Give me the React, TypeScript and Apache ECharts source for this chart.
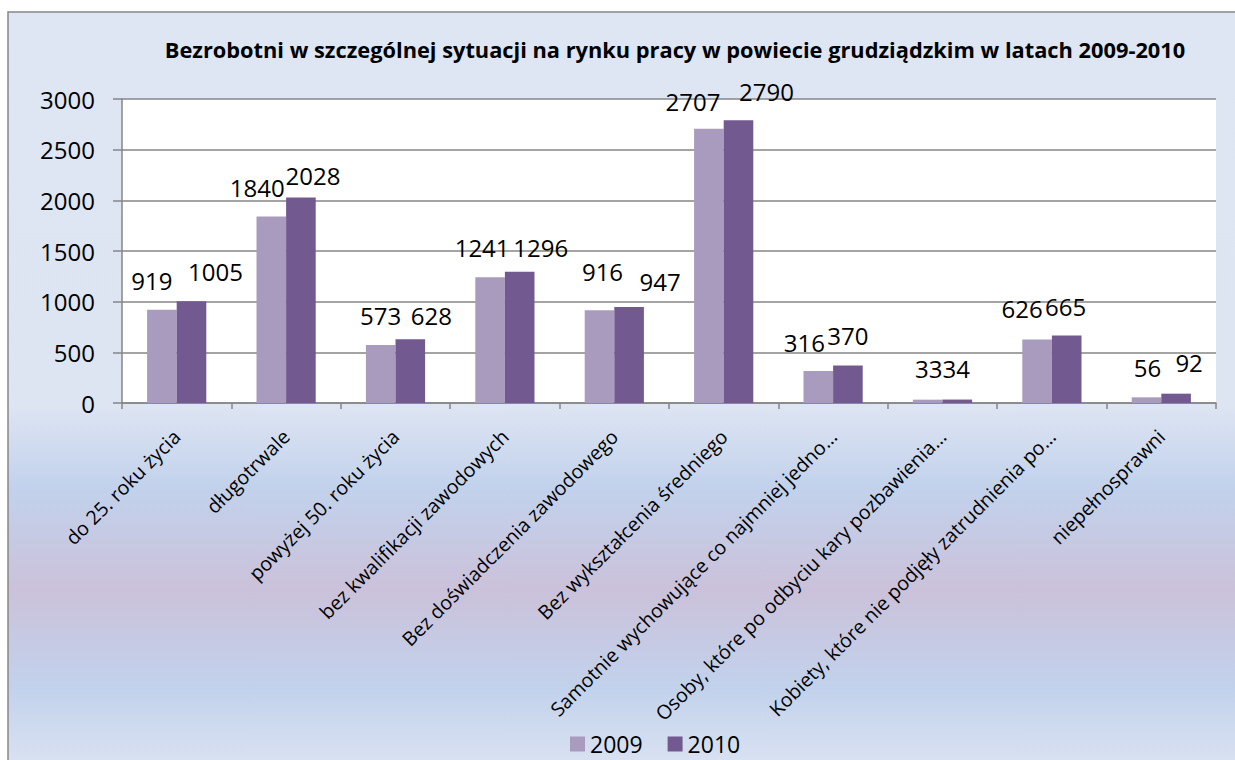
import React, { useEffect, useRef } from "react";
import * as echarts from "echarts";

const categories = [
  "do 25. roku życia",
  "długotrwale",
  "powyżej 50. roku życia",
  "bez kwalifikacji zawodowych",
  "Bez doświadczenia zawodowego",
  "Bez wykształcenia średniego",
  "Samotnie wychowujące co najmniej jedno…",
  "Osoby, które po odbyciu kary pozbawienia…",
  "Kobiety, które nie podjęły zatrudnienia po…",
  "niepełnosprawni",
];
const seriesNames = ["2009", "2010"];
const values2009 = [919, 1840, 573, 1241, 916, 2707, 316, 33, 626, 56];
const values2010 = [1005, 2028, 628, 1296, 947, 2790, 370, 34, 665, 92];
const yTicks = { min: 0, max: 3000, interval: 500 };

// label nudges (pixels) reproducing the hand-placed data labels
const labelShift2009 = [[-10, -17], [-14, -17], [0, -17], [-8, -18], [3, -27], [-16, -15], [-14, -16], [1, -19], [-15, -19], [1, -18]];
const labelShift2010 = [[24, -18], [12, -10], [21, -12], [21, -12], [31, -14], [28, -17], [0, -18], [-1, -19], [-1, -17], [13, -19]];

const FONT = "'Open Sans', 'Noto Sans', sans-serif";

export default function App() {
  const ref = useRef<HTMLDivElement>(null);
  useEffect(() => {
    document.body.style.margin = "0";
    const chart = echarts.init(ref.current!, null, { renderer: "svg" });
    const mk = (vals: number[], shifts: number[][]) =>
      vals.map((v, i) => ({
        value: v,
        label: { offset: shifts[i] },
      }));
    const labelStyle = {
      show: true,
      position: "top",
      distance: 0,
      fontFamily: FONT,
      fontSize: 24,
      color: "#000",
      lineHeight: 24,
    };
    chart.setOption({
      animation: false,
      textStyle: { fontFamily: FONT },
      graphic: [
        {
          type: "rect",
          z: -100,
          silent: true,
          shape: { x: 8, y: 12, width: 1240, height: 760 },
          style: {
            fill: new echarts.graphic.LinearGradient(0, 0, 0, 1, [
              { offset: 0, color: "#DFE6F3" },
              { offset: 0.52, color: "#DDE4F2" },
              { offset: 0.625, color: "#C2D2EC" },
              { offset: 0.76, color: "#CBC1DA" },
              { offset: 0.89, color: "#C2D2EC" },
              { offset: 1, color: "#DCE3F2" },
            ]),
            stroke: "#868686",
            lineWidth: 1.5,
          },
        },
      ],
      title: {
        text: "Bezrobotni w szczególnej sytuacji na rynku pracy w powiecie grudziądzkim w latach 2009-2010",
        left: 670,
        top: 33,
        textAlign: "center",
        textStyle: { fontFamily: FONT, fontSize: 21.8, fontWeight: "bold", color: "#000" },
      },
      legend: {
        data: seriesNames,
        left: 570,
        top: 732,
        itemWidth: 15,
        itemHeight: 15,
        itemGap: 25,
        padding: 0,
        icon: "rect",
        textStyle: { fontFamily: FONT, fontSize: 23, lineHeight: 24, color: "#000", padding: [0, 0, 0, 0] },
      },
      grid: {
        left: 122,
        right: 19,
        top: 99,
        bottom: 357,
        show: true,
        backgroundColor: "#FFFFFF",
        borderWidth: 0,
      },
      xAxis: {
        type: "category",
        data: categories,
        axisLine: { lineStyle: { color: "#868686", width: 1.5 } },
        axisTick: { show: true, length: 6, lineStyle: { color: "#868686", width: 1.5 } },
        axisLabel: {
          rotate: 45,
          interval: 0,
          margin: 30,
          fontFamily: FONT,
          fontSize: 19.6,
          color: "#000",
        },
      },
      yAxis: {
        type: "value",
        min: yTicks.min,
        max: yTicks.max,
        interval: yTicks.interval,
        axisLine: { show: true, lineStyle: { color: "#868686", width: 1.5 } },
        axisTick: { show: true, length: 9, lineStyle: { color: "#868686", width: 1.5 } },
        axisLabel: {
          fontFamily: FONT,
          fontSize: 24,
          color: "#000",
          margin: 27,
          formatter: (v: number) => String(v),
        },
        splitLine: { lineStyle: { color: "#868686", width: 1.5 } },
      },
      series: [
        {
          name: seriesNames[0],
          type: "bar",
          data: mk(values2009, labelShift2009),
          barWidth: 29.6,
          barGap: "0%",
          itemStyle: { color: "#A99BBD" },
          label: labelStyle,
        },
        {
          name: seriesNames[1],
          type: "bar",
          data: mk(values2010, labelShift2010),
          barWidth: 29.6,
          barGap: "0%",
          itemStyle: { color: "#725A90" },
          label: labelStyle,
        },
      ],
    });
    return () => chart.dispose();
  }, []);
  return <div ref={ref} style={{ width: 1235, height: 760 }} />;
}
